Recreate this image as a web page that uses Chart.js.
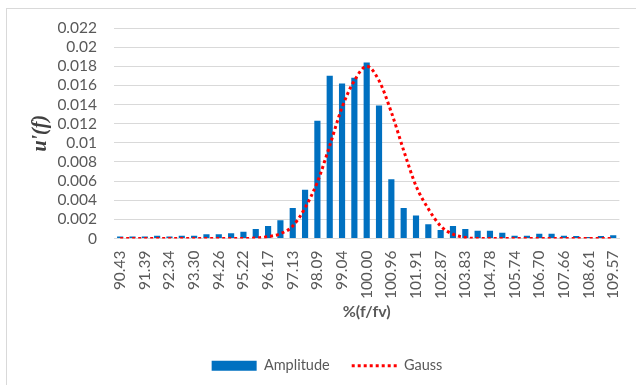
<!DOCTYPE html>
<html lang="en">
<head>
<meta charset="utf-8">
<title>Amplitude vs Gauss</title>
<script src="https://cdn.jsdelivr.net/npm/chart.js"></script>
<style>
  html, body { margin: 0; padding: 0; background: #fff; }
  #wrap { position: relative; width: 636px; height: 385px; overflow: hidden; }
  #frame { position: absolute; left: 6px; top: 8px; width: 700px; height: 500px;
           border-left: 1px solid #d9d9d9; border-top: 1px solid #d9d9d9; pointer-events: none; }
</style>
</head>
<body>
<div id="wrap">
  <canvas id="chart" width="636" height="385"></canvas>
  <div id="frame"></div>
</div>
<script>
// categories: %(f/fv)
const labels = [
  '90.43', '90.91', '91.39', '91.87', '92.34', '92.82', '93.30', '93.78', '94.26', '94.74',
  '95.22', '95.69', '96.17', '96.65', '97.13', '97.61', '98.09', '98.56', '99.04', '99.52',
  '100.00', '100.48', '100.96', '101.44', '101.91', '102.39', '102.87', '103.35', '103.83', '104.31',
  '104.78', '105.26', '105.74', '106.22', '106.70', '107.18', '107.66', '108.13', '108.61', '109.09',
  '109.57'
];

const amplitude = [
  0.0002, 0.0002, 0.0002, 0.0003, 0.0002, 0.0003, 0.0003, 0.00045, 0.00045, 0.00055,
  0.0007, 0.001, 0.0013, 0.0019, 0.0032, 0.0051, 0.0123, 0.0170, 0.0162, 0.0168,
  0.0184, 0.0139, 0.0062, 0.0032, 0.0024, 0.0015, 0.0009, 0.0013, 0.001, 0.0008,
  0.0008, 0.0006, 0.0003, 0.0003, 0.0005, 0.0005, 0.0003, 0.00025, 0.00015, 0.00025,
  0.00035
];

const gauss = [
  0, 0, 0, 0, 0, 0, 0, 0, 0, 0,
  0, 0.00005, 0.0002, 0.0005, 0.0013, 0.0032, 0.0059, 0.0097, 0.0137, 0.0165,
  0.0180, 0.0165, 0.0132, 0.0092, 0.0055, 0.0031, 0.0013, 0.00045, 0.0001, 0,
  0, 0, 0, 0, 0, 0, 0, 0, 0, 0,
  0
];

const yTicks = [0, 0.002, 0.004, 0.006, 0.008, 0.01, 0.012, 0.014, 0.016, 0.018, 0.02, 0.022];

const FONT = 'Lato, "Liberation Sans", sans-serif';
const GREY = '#595959';

const data = {
  labels: labels,
  datasets: [{
    type: 'bar',
    label: 'Amplitude',
    data: amplitude,
    backgroundColor: '#0070c0',
    borderWidth: 0,
    categoryPercentage: 1,
    barPercentage: 0.5,
    order: 2
  }, {
    type: 'line',
    label: 'Gauss',
    data: gauss,
    borderColor: '#ff0000',
    borderWidth: 3,
    borderDash: [3, 3],
    pointRadius: 0,
    fill: false,
    cubicInterpolationMode: 'monotone',
    order: 1
  }]
};

const options = {
  responsive: false,
  animation: false,
  layout: { padding: { left: 32, right: 14, top: 28, bottom: 2 } },
  plugins: {
    tooltip: { enabled: false },
    legend: {
      position: 'bottom',
      labels: {
        color: GREY,
        font: { family: FONT, size: 14.5 },
        usePointStyle: true,
        pointStyleWidth: 45,
        boxWidth: 45,
        boxHeight: 10,
        padding: 22,
        generateLabels: function(chart) {
          return [{
            text: 'Amplitude', fillStyle: '#0070c0', strokeStyle: '#0070c0', lineWidth: 0,
            pointStyle: 'rect', datasetIndex: 0, fontColor: GREY
          }, {
            text: 'Gauss', fillStyle: '#ff0000', strokeStyle: '#ff0000', lineWidth: 3,
            lineDash: [3, 3], pointStyle: 'line', datasetIndex: 1, fontColor: GREY
          }];
        }
      }
    }
  },
  scales: {
    x: {
      grid: { display: false },
      border: { color: '#d9d9d9' },
      ticks: {
        autoSkip: false,
        maxRotation: 90,
        minRotation: 90,
        padding: 4,
        color: GREY,
        font: { family: FONT, size: 15.5 },
        callback: function(v, i) { return i % 2 === 0 ? labels[i] : ''; }
      },
      title: {
        display: true,
        text: '%(f/fv)',
        color: GREY,
        font: { family: FONT, size: 16, weight: 'bold' },
        padding: { top: 0, bottom: 15 }
      },
      afterFit: function(scale) { scale.height = 98; }
    },
    y: {
      min: 0,
      max: 0.022,
      afterBuildTicks: function(scale) { scale.ticks = yTicks.map(v => ({ value: v })); },
      grid: { color: '#d9d9d9', drawTicks: false },
      border: { display: false },
      ticks: {
        autoSkip: false,
        padding: 17,
        color: GREY,
        font: { family: FONT, size: 15.5 },
        callback: function(v) { return String(Number(v.toFixed(3))); }
      },
      title: {
        display: true,
        text: "u'(f)",
        color: '#404040',
        font: { family: '"Liberation Serif", serif', size: 20, weight: 'bold', style: 'italic' },
        padding: { top: -3, bottom: 0 }
      },
      afterFit: function(scale) { scale.width = 82; }
    }
  }
};

new Chart(document.getElementById('chart'), { data, options });
</script>
</body>
</html>
